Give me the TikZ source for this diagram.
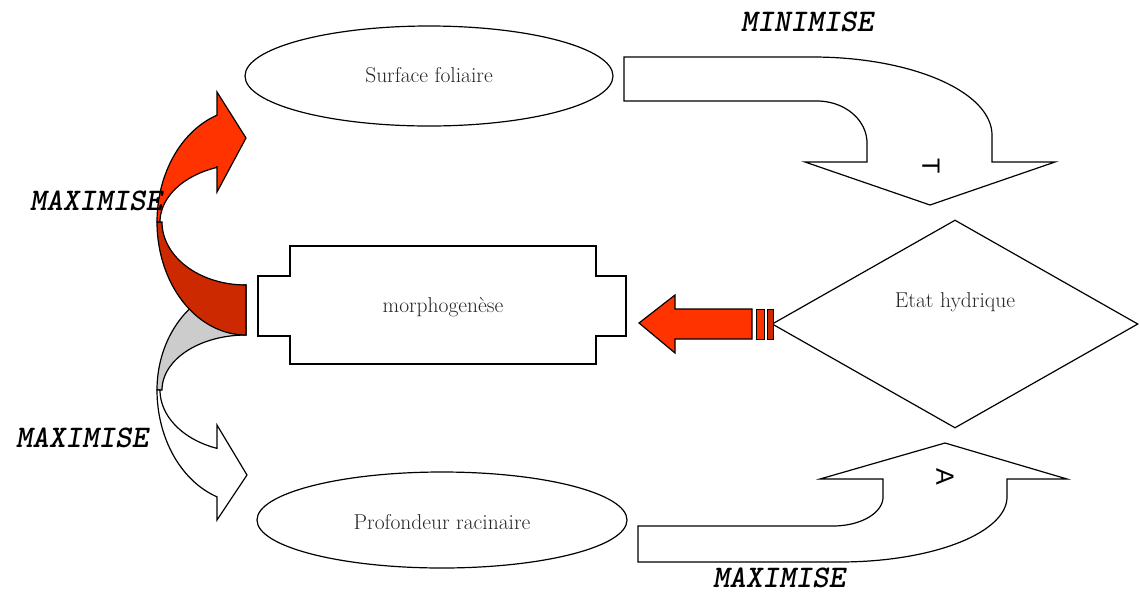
\documentclass[tikz,border=0pt]{standalone}
\usepackage{fontspec}
\newfontfamily\labfont{lmmonolt10-boldoblique}[Extension=.otf]
\newfontfamily\sanslab{Liberation Sans}
\usetikzlibrary{shapes.geometric}
\definecolor{redA}{RGB}{255,51,0}
\definecolor{redB}{RGB}{204,41,0}
\definecolor{grayC}{RGB}{204,204,204}
\tikzset{
  outl/.style={draw=black, line width=1.2pt, line join=miter},
  bodytext/.style={font=\fontsize{21.5}{25}\selectfont, text=black!85, inner sep=0pt},
  maxlab/.style={font=\labfont\fontsize{31.5}{33}\selectfont, inner sep=0pt},
  rotlab/.style={font=\sanslab\fontsize{25}{28}\selectfont, rotate=-90, inner sep=0pt},
}
\begin{document}
\begin{tikzpicture}[x=1pt, y=-1pt]
\useasboundingbox (0,0) rectangle (1140,595);

% ---- ellipses ----
\node[ellipse, outl, minimum width=368pt, minimum height=100pt, inner sep=0pt] (surf) at (429,76) {};
\node[bodytext] (surflab) at (429,75) {Surface foliaire};
\node[ellipse, outl, minimum width=370pt, minimum height=96pt, inner sep=0pt] (prof) at (442,520) {};
\node[bodytext] (proflab) at (442,522) {Profondeur racinaire};

% ---- morphogenese plaque ----
\draw[outl, fill=white] (290,246) -- (596,246) -- (596,276) -- (626,276) -- (626,336) -- (596,336)
  -- (596,364) -- (290,364) -- (290,336) -- (258,336) -- (258,276) -- (290,276) -- cycle;
\node[bodytext] (morph) at (443,307) {morphogenèse};

% ---- diamond ----
\node[diamond, outl, minimum width=366pt, minimum height=208pt, inner sep=0pt] (etat) at (955,324) {};
\node[bodytext] (etatlab) at (955,302) {Etat hydrique};

% ---- red striped arrow ----
\draw[outl, fill=redA] (639,323) -- (675,295) -- (675,309) -- (752,309) -- (752,339) -- (675,339) -- (675,353) -- cycle;
\draw[outl, line width=1pt, fill=redA] (756,309) rectangle (764,339);
\draw[outl, line width=1pt, fill=redB] (767,309) rectangle (773,339);

% ---- top right bent arrow (MINIMISE) ----
\draw[outl, fill=white] (624,57) -- (813,57)
  -- plot[domain=270:360, samples=40] ({813+179*cos(\x)},{135+78*sin(\x)})
  -- (992,162) -- (1055,162) -- (930,205) -- (805,162) -- (867,162) -- (867,143)
  -- plot[domain=0:-90, samples=25] ({817+50*cos(\x)},{143+42*sin(\x)})
  -- (624,101) -- cycle;
\node[rotlab] (tlab) at (931,166) {T};

% ---- bottom right bent arrow (MAXIMISE) ----
\draw[outl, fill=white] (638,526) -- (833,526)
  -- plot[domain=90:0, samples=25] ({833+50*cos(\x)},{497+29*sin(\x)})
  -- (883,479) -- (820,479) -- (945,443) -- (1067,479) -- (1007,479) -- (1007,497)
  -- plot[domain=0:90, samples=40] ({840+167*cos(\x)},{497+65*sin(\x)})
  -- (638,562) -- cycle;
\node[rotlab] (alab) at (945,477) {A};

% ---- left curved arrows ----
% grey back band of the lower arrow
\draw[outl, fill=grayC] plot[domain=270:180, samples=40] ({246+89*cos(\x)},{390+105*sin(\x)})
  -- plot[domain=180:270, samples=40] ({246+84*cos(\x)},{390+55*sin(\x)}) -- cycle;
% white front band of the lower arrow
\draw[outl, fill=white] plot[domain=180:109, samples=40] ({246+89*cos(\x)},{390+113*sin(\x)})
  -- (217,497) -- (217,520) -- (247,475) -- (217,425) -- (217,448)
  -- plot[domain=109.7:180, samples=40] ({246+86*cos(\x)},{390+62*sin(\x)}) -- cycle;
% dark back band of the upper arrow
\draw[outl, fill=redB] plot[domain=180:90, samples=40] ({246+89*cos(\x)},{222+113*sin(\x)})
  -- (246,285)
  -- plot[domain=90:180, samples=40] ({246+84*cos(\x)},{222+63*sin(\x)}) -- cycle;
% light front band of the upper arrow
\draw[outl, fill=redA] plot[domain=180:251, samples=40] ({246+89*cos(\x)},{222+113*sin(\x)})
  -- (217,115) -- (217,92) -- (246,138) -- (217,192) -- (217,166)
  -- plot[domain=250.3:180, samples=40] ({246+86*cos(\x)},{222+58*sin(\x)}) -- cycle;

% ---- labels ----
\node[maxlab] (lab1) at (807,22) {MINIMISE};
\node[maxlab] (lab2) at (96,201) {MAXIMISE};
\node[maxlab] (lab3) at (82,438) {MAXIMISE};
\node[maxlab] (lab4) at (779,578) {MAXIMISE};
\end{tikzpicture}
\end{document}
